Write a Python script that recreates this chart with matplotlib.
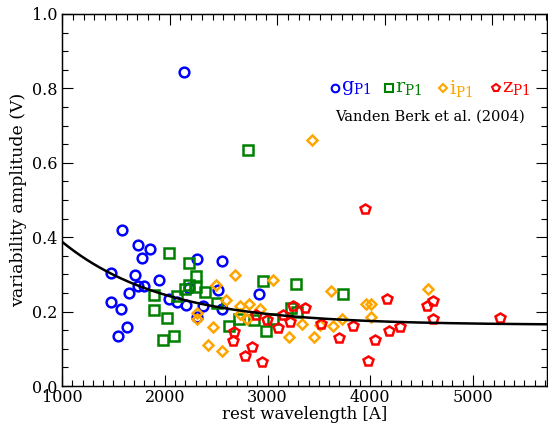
import numpy as np
import matplotlib
matplotlib.use("Agg")
import matplotlib.pyplot as plt
from matplotlib.ticker import MultipleLocator, NullFormatter

plt.rcParams['font.family'] = ['DejaVu Serif']
plt.rcParams['mathtext.fontset'] = 'dejavuserif'

# g_P1 (blue circles)
g_wl = [1587, 1742, 1859, 1781, 1474, 1710, 1742, 1798, 1944, 1655, 1474, 1574, 2044,
        2120, 1630, 1542, 2311, 2554, 2207, 2236, 2521, 2375, 2554, 2317, 2917, 2184]
g_v = [0.420, 0.378, 0.367, 0.343, 0.304, 0.298, 0.270, 0.269, 0.285, 0.250, 0.227, 0.208, 0.235,
       0.226, 0.158, 0.134, 0.341, 0.335, 0.217, 0.263, 0.257, 0.215, 0.208, 0.186, 0.247, 0.844]

# r_P1 (green squares)
r_wl = [2044, 1895, 1895, 2022, 2093, 1980, 2239, 2304, 2236, 2301, 2197, 2395, 2122,
        2505, 2622, 2725, 2870, 3050, 2960, 3277, 3226, 3290, 2982, 3738, 2807]
r_v = [0.358, 0.244, 0.203, 0.184, 0.134, 0.123, 0.330, 0.296, 0.272, 0.267, 0.260, 0.254, 0.241,
       0.222, 0.160, 0.179, 0.177, 0.181, 0.281, 0.273, 0.209, 0.198, 0.149, 0.248, 0.634]

# i_P1 (orange diamonds)
i_wl = [2684, 2499, 2596, 2735, 2728, 2317, 2317, 2466, 2418, 2557, 2803, 3057, 2817,
        2927, 3332, 3206, 3617, 3959, 4004, 3722, 4004, 3511, 3634, 3455, 4566, 3430]
i_v = [0.298, 0.271, 0.232, 0.216, 0.194, 0.195, 0.180, 0.159, 0.110, 0.095, 0.181, 0.285, 0.220,
       0.206, 0.167, 0.133, 0.255, 0.220, 0.220, 0.181, 0.185, 0.164, 0.160, 0.132, 0.261, 0.660]

# z_P1 (red pentagons)
z_wl = [2674, 2667, 2784, 2885, 2998, 3150, 3245, 3365, 3099, 3219, 2846, 2943, 3518,
        3835, 3693, 4166, 4046, 4186, 3981, 4293, 4549, 4614, 4611, 5263, 3952]
z_v = [0.145, 0.122, 0.081, 0.190, 0.177, 0.192, 0.216, 0.211, 0.157, 0.171, 0.104, 0.065, 0.166,
       0.160, 0.129, 0.234, 0.124, 0.147, 0.067, 0.159, 0.216, 0.229, 0.180, 0.182, 0.476]

# Vanden Berk et al. (2004) relation parameters
vb_a, vb_lam0, vb_c = 0.616, 988.0, 0.164

xmin, xmax = 1000, 5720
c_g, c_r, c_i, c_z = '#0000ff', '#008000', '#ffa500', '#ff0000'

fig = plt.figure(figsize=(5.48, 4.23), dpi=100)
ax = fig.add_axes([62/548, 37/423, 485/548, 372/423])

lw = 1.8
ax.plot(g_wl, g_v, 'o', ms=7, mfc='none', mec=c_g, mew=lw, zorder=3)
ax.plot(r_wl, r_v, 's', ms=7, mfc='none', mec=c_r, mew=lw, zorder=3)
ax.plot(i_wl, i_v, 'D', ms=5.2, mfc='none', mec=c_i, mew=lw, zorder=3)
ax.plot(z_wl, z_v, 'p', ms=7.5, mfc='none', mec=c_z, mew=lw, zorder=3)

lam = np.linspace(xmin, xmax, 400)
ax.plot(lam, vb_a*np.exp(-lam/vb_lam0) + vb_c, color='black', lw=1.8, zorder=4)

ax.set_xlim(xmin, xmax)
ax.set_ylim(0, 1.0)
ax.xaxis.set_major_locator(MultipleLocator(1000))
ax.xaxis.set_minor_locator(MultipleLocator(100))
ax.yaxis.set_major_locator(MultipleLocator(0.2))
ax.yaxis.set_minor_locator(MultipleLocator(0.05))
ax.yaxis.set_major_formatter(matplotlib.ticker.FormatStrFormatter('%.1f'))
ax.tick_params(which='both', direction='in', top=False, right=True, labelsize=11.5, width=0.8)
ax.tick_params(axis='x', pad=2)
ax.tick_params(axis='y', pad=3)
ax.tick_params(which='major', length=8)
ax.tick_params(which='minor', length=4)

# top axis (separate tick spacing, no labels)
axt = ax.twiny()
axt.set_xlim(1000, 5510)
axt.xaxis.set_major_locator(MultipleLocator(1000))
axt.xaxis.set_minor_locator(MultipleLocator(100))
axt.xaxis.set_major_formatter(NullFormatter())
axt.tick_params(which='both', direction='in', width=0.8)
axt.tick_params(which='major', length=8)
axt.tick_params(which='minor', length=4)

for sp in ax.spines.values():
    sp.set_linewidth(1.0)

ax.set_xlabel('rest wavelength [A]', fontsize=12, labelpad=0)
ax.set_ylabel('variability amplitude (V)', fontsize=12.5, labelpad=4)

# legend-like annotation
leg = [('o', c_g, 'g', 5.5), ('s', c_r, 'r', 5.5), ('D', c_i, 'i', 4.2), ('p', c_z, 'z', 6)]
xs = [0.563, 0.674, 0.786, 0.895]
for (m, c, t, s), xp in zip(leg, xs):
    ax.plot([xp], [0.8], m, ms=s, mfc='none', mec=c, mew=1.5, transform=ax.transAxes, clip_on=False)
    ax.text(xp + 0.012, 0.8, r'$\mathrm{' + t + r'}_{\mathrm{P1}}$', color=c, fontsize=14,
            transform=ax.transAxes, va='center', ha='left')

ax.text(0.955, 0.725, 'Vanden Berk et al. (2004)', fontsize=10.5, ha='right', va='center',
        transform=ax.transAxes)

fig.savefig('out.png', dpi=100)
